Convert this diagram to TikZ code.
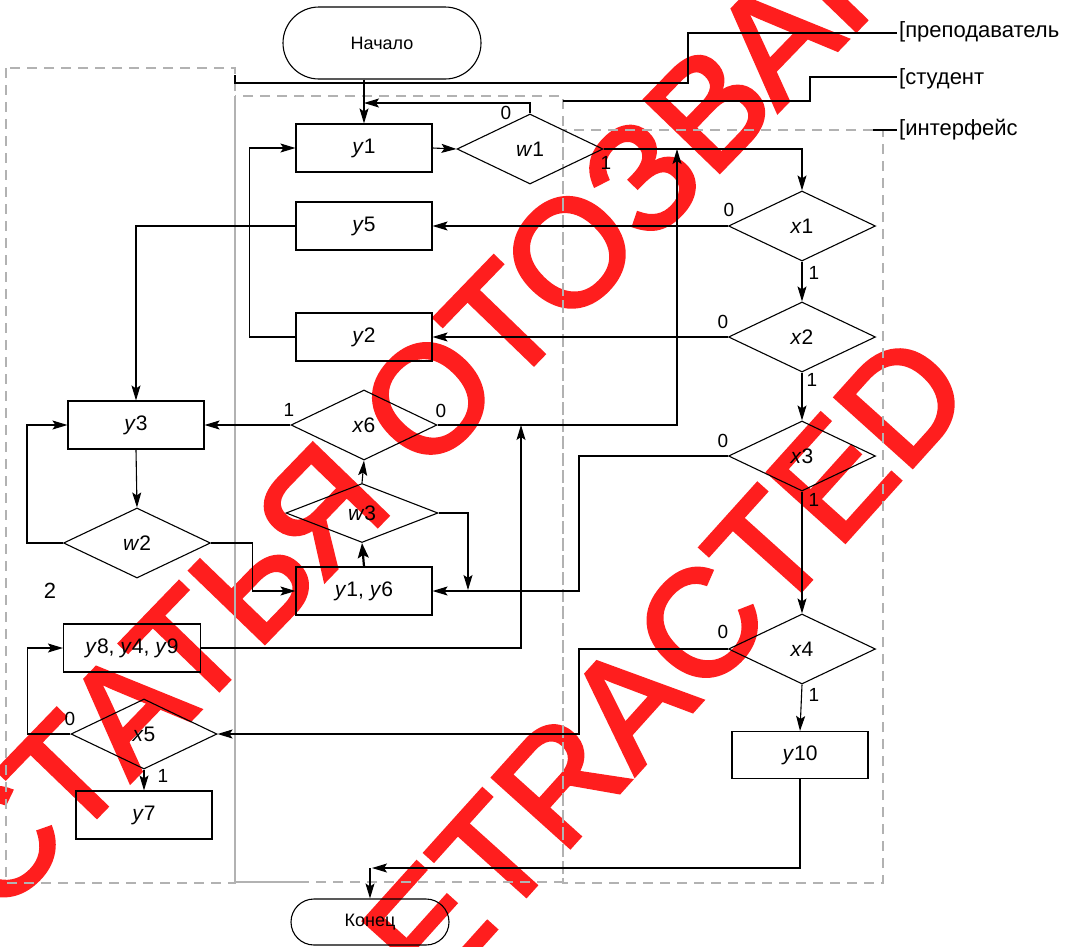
\documentclass[tikz,border=0pt]{standalone}
\usepackage{fontspec}
\setmainfont{Liberation Sans}
\newfontfamily\wmfont[FakeBold=2.5]{Liberation Sans}
\usetikzlibrary{shapes.geometric,arrows.meta,calc}
\definecolor{wmred}{RGB}{255,30,30}
\begin{document}
\begin{tikzpicture}[x=1pt,y=-1pt,
  every node/.style={font=\fontsize{21}{24}\selectfont},
  box/.style={draw,line width=1.1pt,minimum width=136pt,minimum height=48pt,inner sep=0pt},
  dec/.style={draw,diamond,line width=1.1pt,minimum width=146pt,minimum height=70pt,inner sep=0pt},
  term/.style={draw,line width=1.1pt,inner sep=0pt,font=\fontsize{18}{21}\selectfont},
  arr/.style={line width=1.1pt,-{Stealth[length=15pt,width=9pt,inset=3pt]}},
  thickarr/.style={line width=2.2pt,-{Stealth[length=15pt,width=11pt,inset=3pt]}},
  ln/.style={line width=1.1pt},
  lane/.style={draw=black!30,dash pattern=on 10pt off 7pt,line width=2pt},
  lbl/.style={font=\fontsize{19}{22}\selectfont,inner sep=0pt},
  side/.style={font=\fontsize{22}{26}\selectfont,anchor=west,inner sep=0pt},
  wm/.style={text=wmred,font=\fontsize{151}{155}\selectfont\wmfont,inner sep=0pt}
]
\useasboundingbox (0,0) rectangle (1074,946);
\clip (0,0) rectangle (1074,946);

% watermark (underneath the diagram)
\node[wm,rotate=46] (wm1) at (458,368) {СТАТЬЯ ОТОЗВАНА};
\node[wm,rotate=48] (wm2) at (630,703) {RETRACTED};

% lanes
\draw[lane] (6,68) rectangle (235,883);
\draw[lane] (235,96) rectangle (563,882);
\draw[lane] (563,130) rectangle (883,883);
\draw[draw=black!30,line width=1.6pt] (235,96) -- (235,882) -- (300,882);
\draw[ln] (235,75) -- (235,83) -- (688,83) -- (688,33) -- (897,33);
\draw[ln] (563,101) -- (810,101) -- (810,77) -- (897,77);
\draw[ln] (873,130) -- (897,130);
\node[side] (lp) at (899,32) {[преподаватель};
\node[side] (ls) at (899,79) {[студент};
\node[side] (li) at (899,130) {[интерфейс};
\node[font=\fontsize{22}{26}\selectfont] (two) at (50,591) {2};

% nodes
\node[term,minimum width=198pt,minimum height=72pt,rounded corners=36pt] (start) at (382,43) {Начало};
\node[term,minimum width=158pt,minimum height=46pt,rounded corners=23pt] (end) at (370,922) {Конец};

\node[box] (y1) at (364,148) {\textit{y}1};
\node[box] (y5) at (364,226) {\textit{y}5};
\node[box] (y2) at (364,337) {\textit{y}2};
\node[box] (y16) at (364,591) {\textit{y}1, \textit{y}6};
\node[box] (y3) at (136,425) {\textit{y}3};
\node[box,minimum width=137pt] (y849) at (132,648) {\textit{y}8, \textit{y}4, \textit{y}9};
\node[box] (y7) at (144,815) {\textit{y}7};
\node[box,minimum height=47pt] (y10) at (800,755) {\textit{y}10};

\node[dec] (w1) at (530,149) {\textit{w}1};
\node[dec,minimum width=147pt] (x1) at (802,226) {\textit{x}1};
\node[dec,minimum width=147pt] (x2) at (802,337) {\textit{x}2};
\node[dec,minimum width=147pt] (x3) at (802,456) {\textit{x}3};
\node[dec,minimum width=147pt] (x4) at (802,649) {\textit{x}4};
\node[dec] (x6) at (364,425) {\textit{x}6};
\node[dec,minimum width=152pt,minimum height=59pt] (w3) at (362,513) {\textit{w}3};
\node[dec,minimum width=147pt] (w2) at (137,543) {\textit{w}2};
\node[dec] (x5) at (144,734) {\textit{x}5};

% labels
\node[lbl] (l0w1) at (506,113) {0};
\node[lbl] (l1w1) at (606,163) {1};
\node[lbl] (l0x1) at (729,210) {0};
\node[lbl] (l1x1) at (814,273) {1};
\node[lbl] (l0x2) at (723,322) {0};
\node[lbl] (l1x2) at (812,380) {1};
\node[lbl] (l0x3) at (723,441) {0};
\node[lbl] (l1x3) at (814,500) {1};
\node[lbl] (l0x4) at (723,632) {0};
\node[lbl] (l1x4) at (814,695) {1};
\node[lbl] (l1x6) at (289,410) {1};
\node[lbl] (l0x6) at (441,411) {0};
\node[lbl] (l0x5) at (70,719) {0};
\node[lbl] (l1x5) at (163,776) {1};

% coordinates
\coordinate (j1) at (364,103);
\coordinate (j2) at (677,149);
\coordinate (j3) at (521,425);
\coordinate (j4) at (468,590);
\coordinate (j5) at (370,868);

% connectors
\draw[arr] (start.south -| y1.north) -- (y1.north);
\draw[arr] (y1.east) -- (w1.west);
\draw[arr] (w1.north) |- (j1);
\draw[arr] (w1.east) -| (x1.north);
\draw[arr] (x1.west) -- (y5.east);
\draw[arr] (x1.south) -- (x2.north);
\draw[arr] (x2.west) -- (y2.east);
\draw[arr] (x2.south) -- (x3.north);
\draw[arr] (x3.south) -- (x4.north);
\draw[arr] (x4.south) -- (y10.north);
\draw[arr] (y2.west) -- ++(-46,0) |- (y1.west);
\draw[arr] (y5.west) -| (y3.north);
\draw[arr] (x6.west) -- (y3.east);
\draw[arr] (x6.east) -| (j2);
\draw[arr] (y849.east) -| (j3);
\draw[arr] (w3.north) -- (x6.south);
\draw[thickarr] (y16.north) -- (w3.south);
\draw[arr] (w3.east) -| (j4);
\draw[arr] (x3.west) -- ++(-149,0) |- (y16.east);
\draw[arr] (y3.south) -- (w2.north);
\draw[arr] (w2.west) -- ++(-36,0) |- (y3.west);
\draw[arr] (w2.east) -- ++(41,0) |- (y16.west);
\draw[arr] (x5.west) -- ++(-43,0) |- (y849.west);
\draw[arr] (x5.south) -- (y7.north);
\draw[arr] (x4.west) -- ++(-149,0) |- (x5.east);
\draw[arr] (y10.south) |- ($(j5)+(2,0)$);
\draw[arr] (j5) -- (end.north);
\end{tikzpicture}
\end{document}
